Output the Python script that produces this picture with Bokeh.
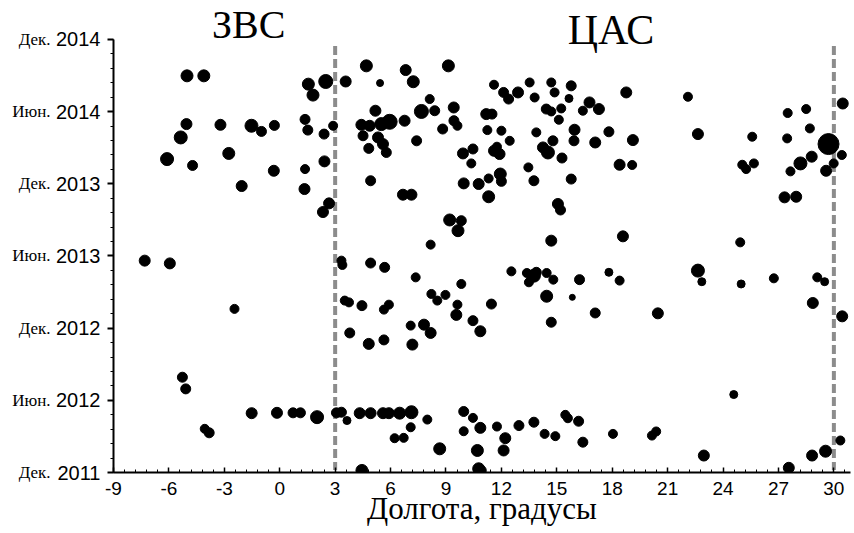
from bokeh.plotting import figure
from bokeh.models import FixedTicker, LinearAxis, Label, Range1d, ColumnDataSource
from bokeh.embed import file_html
from bokeh.resources import INLINE

# longitude (deg), time in months since Dec 2011, marker diameter (px)
lon = [
    -5.02, -4.11, 1.55, 2.49, 1.80, 3.57, -5.05, -3.21, -1.53, -0.99, -0.29, -5.36, -6.10,
    -4.72, -2.76, 1.37, 1.52, 2.40, 2.89, -0.32, -2.06, 1.37, 2.42, 1.34, 2.67, 2.34,
    4.69, 6.82, 7.23, 9.13, 5.43, 8.12, 5.18, 7.67, 8.39, 9.42, 5.95, 4.42, 4.87, 5.50, 6.76,
    4.51, 5.32, 5.59, 4.82, 5.77, 7.41, 8.82, 9.43, 9.62, 4.92, 6.67, 7.13, 9.20, 9.83, 9.65, 8.17,
    11.60, 12.12, 12.39, 12.90, 13.53, 13.80, 14.70, 14.88, 15.78, 15.66, 16.77, 17.28, 16.41,
    14.43, 14.70, 15.24, 15.11, 11.18, 11.49, 11.24, 12.00, 12.45, 13.89, 9.92, 10.46, 10.37,
    11.60, 11.90, 11.76, 9.96, 10.77, 11.31, 11.94, 12.00, 11.31, 13.46, 13.76, 14.25, 14.52,
    14.79, 15.28, 15.96, 15.93, 17.08, 15.78, 15.06, 15.20, 14.70,
    18.76, 17.82, 19.12, 18.40, 19.08, 22.10, 22.64, 25.58, 25.04, 25.25, 25.67, 27.50, 28.50,
    28.70, 27.47, 29.71, 30.48, 30.43, 28.80, 28.19, 27.65, 29.58, 29.99, 27.33, 27.96, 18.58, 24.93,
    -7.31, -5.95, -2.45, -5.27, -5.09, -4.06, -3.82, -1.52, -0.15, 0.72, 1.12, 2.02, 3.07, 3.34,
    3.64, 3.34, 3.39, 3.52, 3.75, 3.79,
    4.92, 5.68, 7.36, 4.45, 5.64, 5.91, 4.82, 5.64, 7.18, 7.09, 7.81, 8.17, 8.21, 8.53, 8.97,
    9.62, 9.56, 9.83, 10.46, 10.86, 11.46, 12.54, 13.38, 13.76, 13.49, 13.89, 14.45, 14.81, 16.23,
    14.45, 15.84, 14.70, 17.08,
    4.33, 4.92, 5.59, 5.91, 6.49, 7.13, 7.99, 7.09, 6.22, 6.71, 8.66, 9.96, 10.46, 9.96, 10.86,
    10.70, 4.45, 10.77, 10.91, 11.76, 12.21, 12.12, 12.95, 13.76, 14.34, 14.92, 15.46, 15.60,
    16.18, 16.41,
    17.82, 18.40, 22.64, 22.85, 24.98, 26.75, 29.10, 29.50, 28.86, 30.45, 20.47, 24.58, 18.04,
    20.15, 20.38, 22.96, 27.56, 28.82, 29.55, 30.35,
]
months = [
    32.97, 32.97, 32.28, 32.50, 31.37, 32.50, 28.96, 28.90, 28.82, 28.35, 28.85, 27.85, 26.05,
    25.52, 26.52, 29.35, 28.46, 28.13, 28.82, 25.08, 23.81, 25.22, 25.86, 23.56, 22.37, 21.65,
    33.80, 33.45, 32.48, 33.80, 32.37, 31.04, 30.07, 30.01, 30.07, 30.34, 29.15, 28.90, 28.82, 28.96, 29.24,
    27.99, 27.85, 27.30, 26.94, 26.60, 27.57, 28.55, 29.24, 28.82, 24.25, 23.09, 23.09, 20.99, 20.93, 20.10, 18.94,
    32.23, 31.59, 31.04, 31.59, 32.42, 31.17, 32.42, 31.59, 32.14, 31.09, 30.76, 30.21, 30.07,
    30.21, 30.01, 30.26, 29.32, 29.79, 29.79, 28.46, 28.41, 27.57, 28.27, 26.52, 26.89, 25.69,
    26.74, 26.47, 27.08, 24.03, 23.98, 24.44, 24.81, 24.20, 22.92, 25.36, 24.25, 27.02, 26.60,
    27.57, 26.14, 28.49, 27.57, 27.43, 24.39, 22.32, 21.82, 19.27,
    31.59, 28.32, 27.63, 25.58, 25.56, 31.23, 28.13, 27.91, 25.58, 25.22, 25.69, 29.88, 30.21,
    28.60, 27.77, 27.30, 30.67, 26.39, 26.25, 25.69, 25.03, 25.08, 25.69, 22.87, 22.92, 19.63, 19.13,
    17.61, 17.38, 13.60, 7.92, 6.95, 3.63, 3.30, 4.93, 4.96, 4.96, 4.96, 4.60, 4.96, 5.01,
    4.32, 17.61, 17.25, 14.29, 14.14, 11.60,
    17.41, 17.05, 16.22, 13.87, 13.54, 13.95, 10.69, 11.02, 10.63, 12.21, 12.29, 11.60, 14.84, 14.29, 14.76,
    13.95, 13.10, 15.67, 12.62, 11.74, 14.00, 16.72, 16.58, 16.36, 15.81, 16.64, 16.58, 16.03, 16.03,
    14.65, 14.56, 12.49, 13.26,
    4.93, 4.93, 4.93, 4.93, 4.93, 5.01, 4.40, 3.76, 2.85, 2.88, 1.97, 5.07, 4.54, 3.43, 3.71,
    1.83, 0.17, 0.31, 0.17, 3.82, 2.85, 1.83, 3.90, 4.18, 3.21, 3.02, 4.79, 4.51,
    4.26, 2.52,
    16.64, 15.95, 16.78, 15.86, 15.67, 16.14, 16.22, 15.86, 14.09, 12.98, 13.23, 6.48, 3.21,
    3.07, 3.41, 1.41, 0.39, 1.41, 1.77, 2.66,
]
mag_size = [
    12, 12, 12, 14, 12, 11, 11, 11, 13, 10, 10, 13, 13,
    10, 12, 10, 10, 10, 9, 11, 11, 9, 11, 11, 11, 11,
    12, 11, 12, 12, 7, 9, 11, 14, 10, 11, 15, 11, 11, 13, 11,
    10, 11, 11, 10, 10, 10, 10, 10, 9, 10, 11, 11, 12, 10, 12, 9,
    9, 10, 10, 11, 9, 9, 9, 9, 10, 8, 11, 11, 9,
    10, 9, 9, 9, 11, 10, 9, 9, 9, 9, 11, 10, 9,
    11, 11, 9, 11, 11, 9, 12, 10, 12, 9, 10, 11, 13,
    10, 10, 11, 10, 11, 10, 11, 10, 11,
    11, 10, 11, 11, 9, 9, 11, 9, 9, 9, 9, 9, 9,
    9, 9, 21, 11, 9, 11, 13, 9, 11, 9, 11, 11, 11, 9,
    11, 11, 9, 10, 10, 9, 10, 11, 11, 10, 10, 13, 10, 10,
    8, 9, 9, 9, 9, 10,
    10, 10, 9, 10, 9, 9, 11, 10, 11, 9, 11, 11, 9, 9, 9,
    9, 11, 9, 10, 11, 10, 9, 9, 13, 9, 10, 9, 9, 10,
    12, 6, 10, 10,
    11, 11, 11, 11, 12, 13, 9, 9, 9, 9, 12, 10, 9, 9, 11,
    12, 12, 12, 10, 9, 11, 11, 10, 10, 9, 9, 9, 9,
    10, 10,
    8, 9, 13, 8, 8, 9, 9, 8, 11, 11, 11, 8, 9,
    9, 9, 11, 11, 11, 12, 9,
]

y_ticks = [0, 6, 12, 18, 24, 30, 36]
month_labels = ["Дек.", "Июн.", "Дек.", "Июн.", "Дек.", "Июн.", "Дек."]
year_labels = ["2011", "2012", "2012", "2013", "2013", "2014", "2014"]
x_ticks = list(range(-9, 31, 3))
x_tick_labels = [str(v) for v in x_ticks]
boundaries = [3, 30]
region_names = ["ЗВС", "ЦАС"]

src = ColumnDataSource(dict(lon=lon, t=months, s=mag_size))

p = figure(width=854, height=533, output_backend="svg", toolbar_location=None,
           x_range=Range1d(-9, 30.9), y_range=Range1d(0, 38.9),
           min_border_left=113, min_border_top=4, min_border_bottom=61, min_border_right=4)
p.outline_line_color = None
p.xgrid.visible = False
p.ygrid.visible = False
p.background_fill_color = "white"
p.border_fill_color = "white"

# dashed boundaries
p.segment(x0=boundaries, x1=boundaries, y0=[35.45, 35.45], y1=[0.2, 0.2],
          line_color="#8c8c8c", line_width=4, line_dash="9 4")

p.scatter("lon", "t", size="s", source=src, color="black", line_color="black")

# x axis
xa = p.xaxis[0]
xa.ticker = FixedTicker(ticks=x_ticks, minor_ticks=[round(-9 + 0.6 * i, 2) for i in range(67)])
xa.major_label_overrides = {t: s for t, s in zip(x_ticks, x_tick_labels)}
xa.axis_line_width = 2
xa.major_tick_in = 5
xa.major_tick_out = 0
xa.minor_tick_in = 3
xa.minor_tick_out = 0
xa.major_tick_line_width = 1.5
xa.major_label_text_font = "Liberation Sans"
xa.major_label_text_font_size = "19px"
xa.major_label_text_color = "black"
xa.major_label_standoff = 9
xa.axis_label = "Долгота, градусы"
xa.axis_label_text_font = "Liberation Serif"
xa.axis_label_text_font_style = "normal"
xa.axis_label_text_font_size = "31px"
xa.axis_label_text_color = "black"
xa.axis_label_standoff = -7

# inner y axis (years)
ya = p.yaxis[0]
ya.ticker = FixedTicker(ticks=y_ticks, minor_ticks=[round(1.2 * i, 2) for i in range(31)])
ya.major_label_overrides = {t: y for t, y in zip(y_ticks, year_labels)}
ya.bounds = (0, 36)
ya.axis_line_width = 2
ya.major_tick_out = 6
ya.major_tick_in = 0
ya.minor_tick_out = 3
ya.minor_tick_in = 0
ya.major_tick_line_width = 2
ya.major_label_text_font = "Liberation Sans"
ya.major_label_text_font_size = "20px"
ya.major_label_text_color = "black"
ya.major_label_standoff = 7

# outer y axis (month names)
ya2 = LinearAxis(ticker=FixedTicker(ticks=y_ticks),
                 major_label_overrides={t: m for t, m in zip(y_ticks, month_labels)})
ya2.axis_line_color = None
ya2.major_tick_line_color = None
ya2.minor_tick_line_color = None
ya2.major_tick_out = 0
ya2.major_tick_in = 0
ya2.major_label_standoff = 3
ya2.major_label_text_font = "Liberation Serif"
ya2.major_label_text_font_size = "17px"
ya2.major_label_text_color = "black"
p.add_layout(ya2, "left")

for name, xpos, ypos, fs in zip(region_names, [-1.68, 17.93], [37.2, 36.75], ["40px", "42px"]):
    p.add_layout(Label(x=xpos, y=ypos, text=name, text_align="center",
                       text_baseline="alphabetic", text_font="Liberation Serif",
                       text_font_size=fs, text_color="black"))

open("out.html", "w").write(file_html(p, INLINE))
